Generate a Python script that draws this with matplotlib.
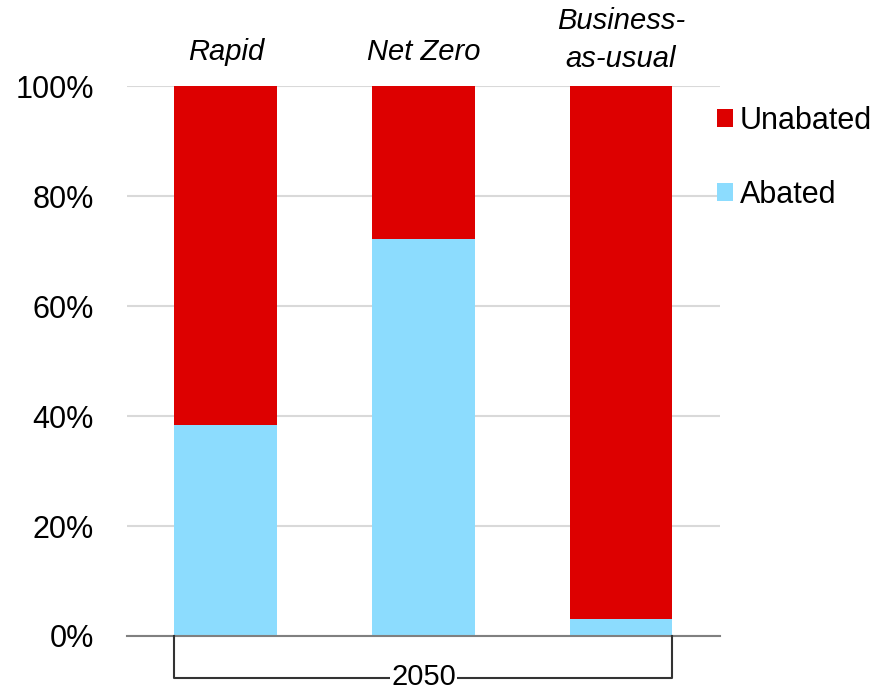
import matplotlib.pyplot as plt
import numpy as np

plt.rcParams['font.family'] = ['Liberation Sans', 'DejaVu Sans']

# Share of emissions in 2050 by scenario (%)
scenarios = ['Rapid', 'Net Zero', 'Business-\nas-usual']
abated = [38.3, 72.2, 3.1]
unabated = [100 - a for a in abated]
year_label = '2050'
y_ticks = [0, 20, 40, 60, 80, 100]

red = '#DD0000'
blue = '#8CDCFE'

fig = plt.figure(figsize=(8.79, 6.91), dpi=100)
ax = fig.add_axes([0.1445, 0.0796, 0.6745, 0.7959])

x = np.arange(len(scenarios))
w = 0.52
ax.bar(x, abated, width=w, color=blue, label='Abated', zorder=3)
ax.bar(x, unabated, width=w, bottom=abated, color=red, label='Unabated', zorder=3)

ax.set_xlim(-0.5, len(scenarios) - 0.5)
ax.set_ylim(0, 100)
ax.set_yticks(y_ticks)
ax.set_yticklabels([f'{t}%' for t in y_ticks], fontsize=22)
ax.yaxis.grid(True, color='#d9d9d9', linewidth=1.5, zorder=0)
ax.tick_params(axis='y', length=0, pad=24)
ax.set_xticks([])

# scenario names above the bars
for xi, name in zip(x, scenarios):
    off = 13.7 if '\n' in name else 18.7
    ax.annotate(name, xy=(xi, 1), xycoords=('data', 'axes fraction'),
                xytext=(0, off), textcoords='offset points',
                ha='center', va='baseline', fontsize=21, style='italic',
                linespacing=1.47)

for s in ['top', 'right', 'left']:
    ax.spines[s].set_visible(False)
ax.spines['bottom'].set_color('#808080')
ax.spines['bottom'].set_linewidth(1.5)
ax.spines['bottom'].set_zorder(4)

# bracket under the bars
by = -7.7
xl, xr = x[0] - w / 2, x[-1] + w / 2
ax.plot([xl, xl, xr, xr], [0, by, by, 0], color='#333333', lw=1.5,
        clip_on=False, zorder=5)
ax.text(x.mean(), by + 0.3, year_label, ha='center', va='center', fontsize=21,
        bbox=dict(facecolor='white', edgecolor='none', pad=1.0), zorder=6,
        clip_on=False)

handles, labels = ax.get_legend_handles_labels()
ax.legend(handles[::-1], labels[::-1], loc='upper left', bbox_to_anchor=(0.995, 0.9636),
          frameon=False, fontsize=22, handlelength=0.52, handleheight=0.52,
          handletextpad=0.23, labelspacing=1.43, borderpad=0, borderaxespad=0)

plt.savefig('out.png', dpi=100)
